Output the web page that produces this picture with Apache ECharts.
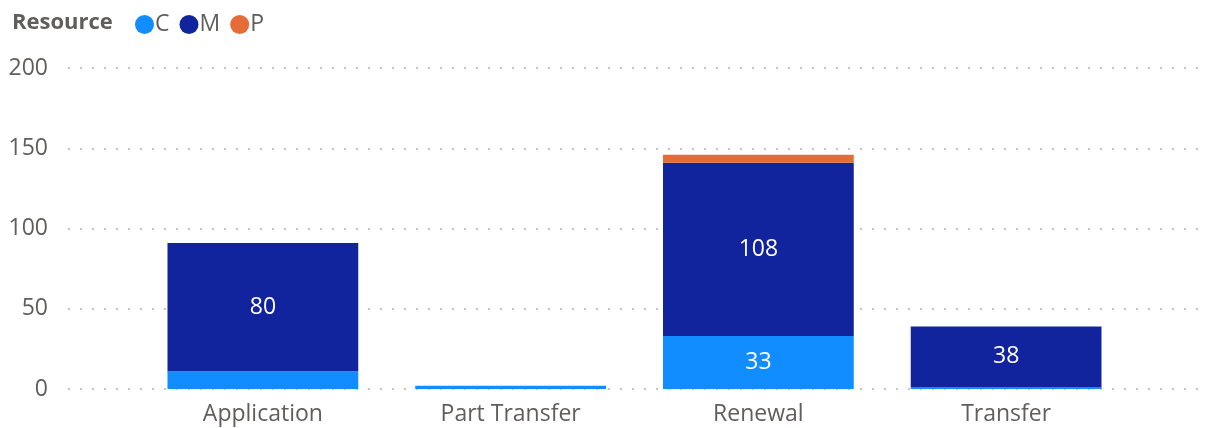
<!DOCTYPE html>
<html>
<head>
<meta charset="utf-8">
<script src="https://cdn.jsdelivr.net/npm/echarts@6/dist/echarts.min.js"></script>
<style>
html, body { margin: 0; padding: 0; background: #fff; }
#main { width: 1210px; height: 428px; }
</style>
</head>
<body>
<div id="main"></div>
<script>
var categories = ['Application', 'Part Transfer', 'Renewal', 'Transfer'];
var seriesNames = ['C', 'M', 'P'];
var cValues = [11, 2, 33, 1];
var mValues = [80, 0, 108, 38];
var pValues = [0, 0, 5, 0];
var yTicks = [0, 50, 100, 150, 200];

var colors = ['#118DFF', '#12239E', '#E66C37'];
var font = "'Segoe UI', 'Open Sans', sans-serif";

// Power BI hides labels when the segment is too thin
function withLabels(values) {
    return values.map(function (v) {
        return {
            value: v === 0 ? null : v,
            label: { show: v >= 20 }
        };
    });
}

var myChart = echarts.init(document.getElementById('main'));
var option = {
    animation: false,
    title: {
        text: 'Resource',
        left: 7,
        top: 7,
        textStyle: { color: '#605E5C', fontSize: 22, fontWeight: 'bold', fontFamily: font }
    },
    legend: {
        data: seriesNames,
        left: 130,
        top: 8,
        icon: 'circle',
        itemWidth: 19,
        itemHeight: 19,
        itemGap: 10,
        textStyle: { color: '#605E5C', fontSize: 23, fontFamily: font, padding: [0, 0, 0, -4] }
    },
    grid: [
        { left: 68, right: 5, top: 68, bottom: 39 },
        { left: 139, right: 80, top: 68, bottom: 39 }
    ],
    xAxis: [
        { type: 'category', gridIndex: 0, show: false, data: ['x'] },
        {
            type: 'category',
            gridIndex: 1,
            data: categories,
            axisLine: { show: false },
            axisTick: { show: false },
            axisLabel: { color: '#605E5C', fontSize: 23, fontFamily: font, margin: 14 }
        }
    ],
    yAxis: [
        {
            type: 'value',
            gridIndex: 0,
            min: yTicks[0],
            max: yTicks[yTicks.length - 1],
            interval: yTicks[1] - yTicks[0],
            axisLabel: { color: '#605E5C', fontSize: 23, fontFamily: font, margin: 20 },
            splitLine: { lineStyle: { color: '#C8C6C4', width: 2, type: [2, 10] } }
        },
        {
            type: 'value',
            gridIndex: 1,
            min: yTicks[0],
            max: yTicks[yTicks.length - 1],
            show: false,
            splitLine: { show: false }
        }
    ],
    series: [cValues, mValues, pValues].map(function (vals, i) {
        return {
            name: seriesNames[i],
            type: 'bar',
            stack: 'total',
            xAxisIndex: 1,
            yAxisIndex: 1,
            barWidth: '77%',
            itemStyle: { color: colors[i] },
            label: {
                position: 'inside',
                color: '#fff',
                fontSize: 23,
                fontFamily: font
            },
            data: withLabels(vals)
        };
    })
};
myChart.setOption(option);
</script>
</body>
</html>
